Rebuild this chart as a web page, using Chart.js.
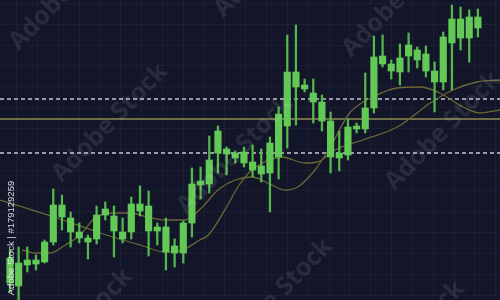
<!DOCTYPE html>
<html>
<head>
<meta charset="utf-8">
<script src="https://cdn.jsdelivr.net/npm/chart.js@4.4.1/dist/chart.umd.min.js"></script>
<style>
  html, body { margin: 0; padding: 0; background: #121628; }
</style>
</head>
<body>
<canvas id="c" width="500" height="300"></canvas>
<script>
// candles, values (300 - pixel row)
const openV  = [17,14,35,36,38,58,83,68,62,58,61,85,69,61,68,89,69,69,48,47,47,77,115,116,147,146,142,137,130,126,127,143,174,213,211,198,179,143,142,145,171,171,192,236,229,228,244,240,229,218,218,257,262,262,272];
const closeV = [42,37,40,40,58,95,95,82,68,62,85,91,84,68,96,96,94,73,73,54,77,116,119,140,169,151,147,148,138,134,157,186,228,228,215,207,198,179,147,173,174,192,243,244,236,242,255,250,246,229,263,281,281,283,283];
const highV  = [50,53,53,45,60,111,105,88,77,65,94,98,94,82,103,114,109,77,82,61,79,132,133,164,174,153,149,153,155,151,163,193,265,275,221,221,205,188,169,181,177,227,264,265,240,256,267,253,254,238,268,295,293,290,291];
const lowV   = [8,0,28,30,37,55,70,53,57,41,56,80,43,57,61,84,44,55,30,33,37,63,101,107,127,125,137,133,123,118,88,121,152,175,208,177,169,127,129,140,167,167,187,233,221,215,228,232,223,188,210,210,250,238,263];

// moving averages: candle position -> value
const slowX = [-1.15,5.4,10.4,15,17.9,19.9,21.9,22.9,25,26.3,27.9,29.4,31.4,34,35.5,37.5,40.7,44.7,48.5,51.1,53.9,56.55];
const slowY = [100,82,67,55,48,50,60,65,93,113,130,138,143,137,138,150,160,173,197,210,218,220];
const fastX = [1.4,2.9,4.6,6.4,8.1,9.8,11.9,13.9,15.8,17.9,20.2,22.2,24,26,27.9,30,31.7,33.2,35.2,36.9,39.2,41.9,44.7,47.3,49.6,52.3,54.2,56.55];
const fastY = [50,47,47,55,65,82,87,87,83,80,80,93,110,120,123,116,110,113,130,152,187,203,212,213,207,193,187,190];

// horizontal levels
const dashedLevels = [201, 147];
const solidLevel = 181;

const xMin = -1.15, xMax = 56.55;
const idx = openV.map((_, i) => i);

const green = '#62c957';
const maColor = '#6b6633';
const gridColor = 'rgba(130,140,190,0.07)';

function levelLine(v, color, dash, width) {
  return {
    type: 'line',
    data: [{ x: xMin, y: v }, { x: xMax, y: v }],
    borderColor: color,
    borderWidth: width,
    borderDash: dash,
    pointRadius: 0,
    order: 5
  };
}

const watermark = {
  id: 'watermark',
  afterDraw(chart) {
    const ctx = chart.ctx;
    ctx.save();
    ctx.fillStyle = 'rgba(255,255,255,0.09)';
    ctx.font = 'bold 25px "Open Sans"';
    ctx.textAlign = 'center';
    ctx.textBaseline = 'middle';
    const spots = [[67,-9],[272,-42],[400,-2],[110,123],[235,155],[443,131],[75,328],[275,298],[407,340]];
    spots.forEach(([x, y]) => {
      ctx.save();
      ctx.translate(x, y);
      ctx.rotate(-46 * Math.PI / 180);
      ctx.fillText('Adobe Stock', 0, 0);
      ctx.restore();
    });
    ctx.fillStyle = 'rgba(235,235,240,0.9)';
    ctx.font = '9.5px "Liberation Sans"';
    ctx.translate(11, 238);
    ctx.rotate(-Math.PI / 2);
    ctx.fillText('Adobe Stock | #179129259', 0, 0);
    ctx.restore();
  }
};

new Chart(document.getElementById('c'), {
  type: 'bar',
  data: {
    datasets: [
      {
        data: idx.map(i => ({ x: i, y: [openV[i], closeV[i]] })),
        backgroundColor: green,
        barThickness: 6.5,
        grouped: false,
        order: 0
      },
      {
        data: idx.map(i => ({ x: i, y: [lowV[i], highV[i]] })),
        backgroundColor: '#55b84c',
        barThickness: 1.6,
        grouped: false,
        order: 1
      },
      {
        type: 'line',
        data: slowX.map((x, i) => ({ x, y: slowY[i] })),
        borderColor: maColor,
        borderWidth: 1.3,
        pointRadius: 0,
        cubicInterpolationMode: 'monotone',
        order: 3
      },
      {
        type: 'line',
        data: fastX.map((x, i) => ({ x, y: fastY[i] })),
        borderColor: maColor,
        borderWidth: 1.3,
        pointRadius: 0,
        cubicInterpolationMode: 'monotone',
        order: 3
      },
      levelLine(dashedLevels[0], '#c4c6d2', [4, 3], 1.4),
      levelLine(dashedLevels[1], '#c4c6d2', [4, 3], 1.4),
      levelLine(solidLevel, '#8c8a52', [], 1.5)
    ]
  },
  options: {
    responsive: false,
    animation: false,
    devicePixelRatio: 1,
    layout: { padding: 0 },
    plugins: { legend: { display: false }, tooltip: { enabled: false } },
    scales: {
      x: {
        type: 'linear',
        min: xMin,
        max: xMax,
        offset: false,
        grid: { color: gridColor, drawTicks: false, offset: false },
        border: { display: false },
        ticks: { display: false },
        afterBuildTicks: (scale) => {
          const t = [];
          for (let v = 16.7 / 8.666 + xMin; v < xMax; v += 20.83 / 8.666) t.push({ value: v });
          scale.ticks = t;
        }
      },
      y: {
        min: 0,
        max: 300,
        grid: { color: gridColor, drawTicks: false },
        border: { display: false },
        ticks: { display: false },
        afterBuildTicks: (scale) => {
          const t = [];
          for (let v = 4.9; v < 300; v += 20.83) t.push({ value: v });
          scale.ticks = t;
        }
      }
    }
  },
  plugins: [watermark]
});
</script>
</body>
</html>
